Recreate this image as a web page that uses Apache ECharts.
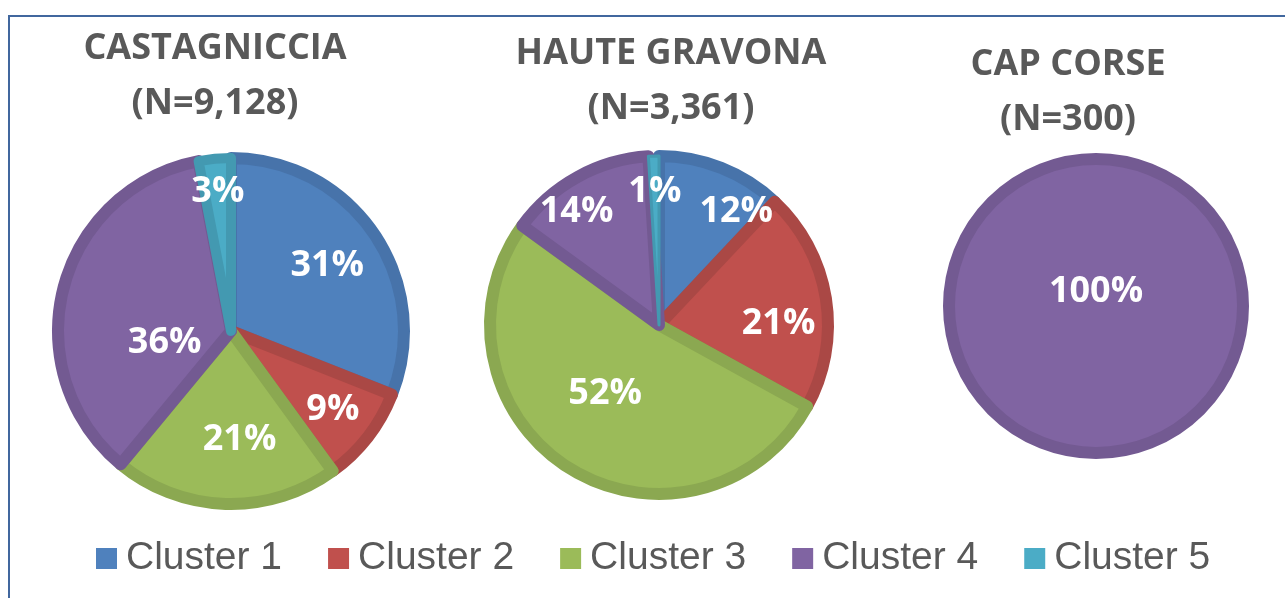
<!DOCTYPE html>
<html>
<head>
<meta charset="utf-8">
<script src="https://cdn.jsdelivr.net/npm/echarts@6/dist/echarts.min.js"></script>
<style>
html,body{margin:0;padding:0;background:#fff;}
#chart{width:1285px;height:598px;position:absolute;left:0;top:0;}
#frame{position:absolute;left:8px;top:15px;width:1290px;height:620px;border:2px solid #41679E;box-sizing:border-box;pointer-events:none;}
</style>
</head>
<body>
<div id="chart"></div>
<div id="frame"></div>
<script>
// ---- data ----
const clusters = ['Cluster 1', 'Cluster 2', 'Cluster 3', 'Cluster 4', 'Cluster 5'];
const regionNames = ['CASTAGNICCIA', 'HAUTE GRAVONA', 'CAP CORSE'];
const regionN = ['9,128', '3,361', '300'];
const castagniccia = [31, 9, 21, 36, 3];
const hauteGravona = [12, 21, 52, 14, 1];
const capCorse = [0, 0, 0, 100, 0];

// ---- style ----
const fills = ['#4F81BD', '#C0504D', '#9BBB59', '#8064A2', '#4BACC6'];
const strokes = ['#4773AA', '#AA4845', '#8BA851', '#735A92', '#4399B1'];
const centers = [[231, 331], [659, 325], [1096, 306]];
const radii = [173, 169, 147];
const titleX = [210, 666, 1063];
const titleTop = [16, 21, 32];
// radial position of each label, as fraction of radius, plus a small nudge
const labelRadial = [
  [0.65, 0.72, 0.61, 0.40, 0.78],
  [0.78, 0.68, 0.50, 0.80, 0.76],
  null
];
const labelNudge = [
  [[0, 0], [0, 0], [12, 0], [3, 30], [0, 0]],
  [[27, 14], [2, 17], [-7, -5], [-15, 9], [0, 0]],
  null
];
// thinner outline for the very thin slices
const borderWidths = [
  [12, 12, 12, 12, 10],
  [12, 12, 12, 12, 3],
  [12, 12, 12, 12, 12]
];

const allValues = [castagniccia, hauteGravona, capCorse];

function buildData(values, s) {
  return values.map((v, i) => ({
    name: clusters[i],
    value: v,
    idx: i,
    itemStyle: { color: fills[i], borderColor: strokes[i], borderWidth: borderWidths[s][i] }
  })).filter(d => d.value > 0);
}

const series = allValues.map((vals, s) => {
  const data = buildData(vals, s);
  const ser = {
    type: 'pie',
    center: centers[s],
    radius: radii[s],
    startAngle: 90,
    clockwise: true,
    avoidLabelOverlap: false,
    silent: true,
    data: data,
    itemStyle: { borderWidth: 12, borderJoin: 'round' },
    label: {
      show: true,
      position: s === 2 ? 'center' : 'inside',
      formatter: p => p.value + '%',
      color: '#ffffff',
      fontFamily: 'Open Sans',
      fontWeight: 'bold',
      fontSize: 36
    },
    labelLine: { show: false },
    emphasis: { disabled: true }
  };
  if (labelRadial[s]) {
    const ks = labelRadial[s];
    const nd = labelNudge[s];
    const c = centers[s];
    ser.labelLayout = function (p) {
      const r = p.labelRect;
      const lx = r.x + r.width / 2, ly = r.y + r.height / 2;
      const orig = data[p.dataIndex].idx;
      const f = ks[orig] / 0.5 - 1;
      return { dx: (lx - c[0]) * f + nd[orig][0], dy: (ly - c[1]) * f + nd[orig][1] };
    };
  } else {
    ser.labelLayout = function () { return { dy: -14 }; };
  }
  return ser;
});

const titles = regionNames.map((name, i) => ({
  text: name + '\n(N=' + regionN[i] + ')',
  left: titleX[i],
  top: titleTop[i],
  textAlign: 'center',
  textStyle: {
    color: '#595959',
    fontFamily: 'Open Sans',
    fontWeight: 'bold',
    fontSize: 36,
    lineHeight: 55
  }
}));

const chart = echarts.init(document.getElementById('chart'), null, { renderer: 'canvas' });
chart.setOption({
  animation: false,
  backgroundColor: '#ffffff',
  title: titles,
  legend: {
    data: clusters,
    left: 91,
    top: 534,
    itemWidth: 21,
    itemHeight: 21,
    itemGap: 46,
    icon: 'rect',
    itemStyle: { borderWidth: 0 },
    textStyle: {
      color: '#595959',
      fontFamily: 'Liberation Sans',
      fontSize: 39,
      padding: [0, 0, 0, 4]
    }
  },
  series: series
});
</script>
</body>
</html>
